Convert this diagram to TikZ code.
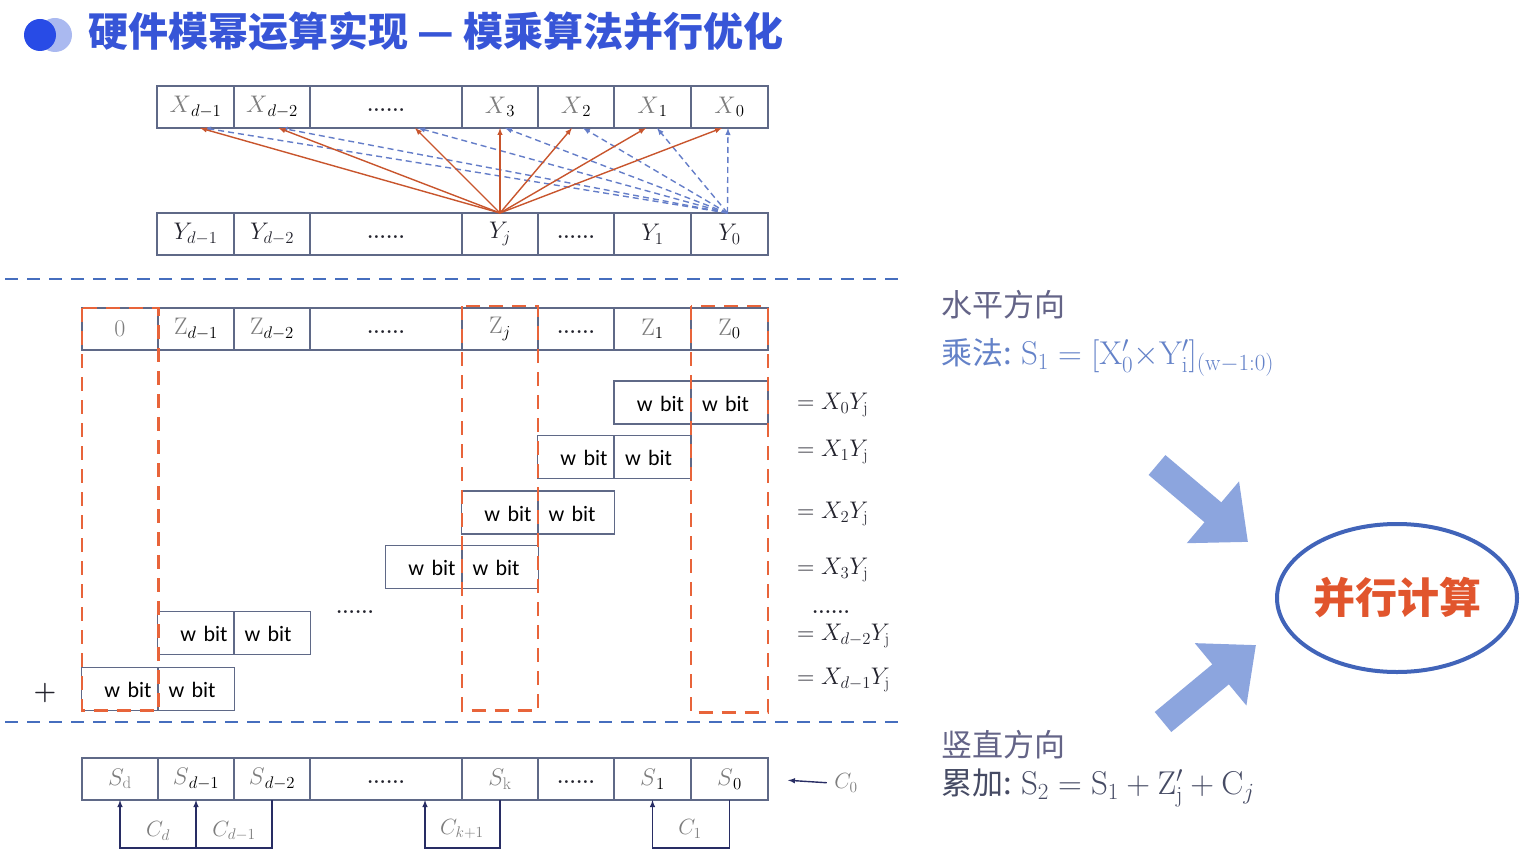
\RequirePackage{fix-cm}
\documentclass[tikz,border=0pt]{standalone}
\usepackage{fontspec}
\newfontfamily\cjk{Noto Sans CJK SC}
\newfontfamily\wfont{Carlito}
\usetikzlibrary{arrows.meta,shapes.geometric}

\definecolor{titleblue}{RGB}{55,85,215}
\definecolor{iconblue}{RGB}{40,75,230}
\definecolor{iconlight}{RGB}{170,185,240}
\definecolor{cellline}{RGB}{95,105,135}
\definecolor{xgray}{RGB}{125,125,125}
\definecolor{darktext}{RGB}{35,35,45}
\definecolor{odash}{RGB}{232,100,58}
\definecolor{orarrow}{RGB}{200,85,45}
\definecolor{blarrow}{RGB}{100,125,200}
\definecolor{sepblue}{RGB}{70,110,190}
\definecolor{carryline}{RGB}{40,45,100}
\definecolor{headgray}{RGB}{100,100,135}
\definecolor{mulblue}{RGB}{100,130,200}
\definecolor{addgray}{RGB}{70,75,100}
\definecolor{ellblue}{RGB}{65,100,185}
\definecolor{partext}{RGB}{225,85,45}
\definecolor{bigarr}{RGB}{140,165,222}

\begin{document}
\begin{tikzpicture}[x=1pt,y=-1pt,>=latex,
    cell/.style={draw=cellline,line width=1.2pt,minimum height=42,outer sep=0pt,inner sep=0pt,font=\fontsize{24}{28}\selectfont},
    wl/.style={draw=cellline,line width=1.2pt,minimum width=77,minimum height=43,outer sep=0pt,inner xsep=7,inner ysep=4,text width=63,align=right,text height=22,text depth=5,font=\wfont\fontsize{22}{26}\selectfont},
    wr/.style={wl,inner xsep=11,text width=55,align=left},
    eqlab/.style={anchor=west,inner sep=0pt,font=\fontsize{24}{28}\selectfont,text=darktext},
    dots/.style={font=\fontsize{20}{24}\selectfont\bfseries,text=darktext,text height=9pt,text depth=0pt},
    sepline/.style={sepblue,line width=2.5pt,dash pattern=on 13pt off 9pt},
    colbox/.style={odash,line width=2.8pt,dash pattern=on 14pt off 9pt},
    orangearr/.style={->,orarrow,line width=1.4pt},
    bluearr/.style={->,blarrow,line width=1.4pt,dash pattern=on 6pt off 4pt},
    carry/.style={->,carryline,line width=1.4pt},
    clab/.style={text=xgray,font=\fontsize{22}{26}\selectfont},
    heading/.style={anchor=west,inner sep=0pt,font=\cjk\fontsize{31}{36}\selectfont},
    bigarrow/.style={bigarr,line width=26pt,-{Triangle[length=46pt,width=78pt]}}]
    \useasboundingbox (0,0) rectangle (1520,861);

    % title
    \fill[iconlight] (55,35) circle (17pt);
    \fill[iconblue] (40,35) circle (16pt);
    \node[anchor=west,inner sep=0pt,text=titleblue,font=\cjk\bfseries\fontsize{40}{46}\selectfont] (title) at (88,31) {硬件模幂运算实现 — 模乘算法并行优化};

    % X row
    \node[cell,minimum width=77] (xdm1) at (195.5,107) {$\textcolor{xgray}{X}_{d-1}$};
    \node[cell,minimum width=76] (xdm2) at (272,107) {$\textcolor{xgray}{X}_{d-2}$};
    \node[cell,minimum width=152,dots] (xdots) at (386,107) {......};
    \node[cell,minimum width=76] (x3) at (500,107) {$\textcolor{xgray}{X}_3$};
    \node[cell,minimum width=76] (x2) at (576,107) {$\textcolor{xgray}{X}_2$};
    \node[cell,minimum width=77] (x1) at (652.5,107) {$\textcolor{xgray}{X}_1$};
    \node[cell,minimum width=77] (x0) at (729.5,107) {$\textcolor{xgray}{X}_0$};

    % Y row
    \node[cell,minimum width=77,text=darktext] (ydm1) at (195.5,234) {$Y_{d-1}$};
    \node[cell,minimum width=76,text=darktext] (ydm2) at (272,234) {$Y_{d-2}$};
    \node[cell,minimum width=152,dots] (ydots) at (386,234) {......};
    \node[cell,minimum width=76,text=darktext] (yj) at (500,234) {$Y_j$};
    \node[cell,minimum width=76,dots] (ydots2) at (576,234) {......};
    \node[cell,minimum width=77,text=darktext] (y1) at (652.5,234) {$Y_1$};
    \node[cell,minimum width=77,text=darktext] (y0) at (729.5,234) {$Y_0$};

    \foreach \tgt/\ox/\bx in {xdm1/4.5/8.5,xdm2/6.5/8.5,xdots/29/32,x3/0/5,x2/-4/7,x1/-6.5/4.5,x0/-7.5/-1.5}{
        \draw[bluearr] ([xshift=-2pt]y0.north) -- ([xshift=\bx pt]\tgt.south);
        \draw[orangearr] (yj.north) -- ([xshift=\ox pt]\tgt.south);
    }

    \draw[sepline] (5,279) -- (900,279);

    % Z row
    \node[cell,minimum width=76,text=xgray] (zzero) at (120,329) {$0$};
    \node[cell,minimum width=76] (zdm1) at (196,329) {$\textcolor{xgray}{\mathrm{Z}}_{d-1}$};
    \node[cell,minimum width=76] (zdm2) at (272,329) {$\textcolor{xgray}{\mathrm{Z}}_{d-2}$};
    \node[cell,minimum width=152,dots] (zdots) at (386,329) {......};
    \node[cell,minimum width=76] (zj) at (500,329) {$\textcolor{xgray}{\mathrm{Z}}_j$};
    \node[cell,minimum width=76,dots] (zdots2) at (576,329) {......};
    \node[cell,minimum width=77] (z1) at (652.5,329) {$\textcolor{xgray}{\mathrm{Z}}_1$};
    \node[cell,minimum width=77] (z0) at (729.5,329) {$\textcolor{xgray}{\mathrm{Z}}_0$};

    % partial products
    \node[wl] (w1a) at (652.5,402.5) {w bit};
    \node[wr] (w1b) at (729.5,402.5) {w bit};
    \node[wl] (w2a) at (576,457) {w bit};
    \node[wr] (w2b) at (652.5,457) {w bit};
    \node[wl] (w3a) at (500,512.5) {w bit};
    \node[wr] (w3b) at (576,512.5) {w bit};
    \node[wl] (w4a) at (424,567) {w bit};
    \node[wr] (w4b) at (500,567) {w bit};
    \node[wl] (w5a) at (196,633) {w bit};
    \node[wr] (w5b) at (272,633) {w bit};
    \node[wl] (w6a) at (120,689) {w bit};
    \node[wr] (w6b) at (196,689) {w bit};

    \node[eqlab] (eq1) at (797,405) {$=X_0Y_\mathrm{j}$};
    \node[eqlab] (eq2) at (797,452) {$=X_1Y_\mathrm{j}$};
    \node[eqlab] (eq3) at (797,514) {$=X_2Y_\mathrm{j}$};
    \node[eqlab] (eq4) at (797,570) {$=X_3Y_\mathrm{j}$};
    \node[dots] (eqdots) at (831,609) {......};
    \node[eqlab] (eq5) at (797,636) {$=X_{d-2}Y_\mathrm{j}$};
    \node[eqlab] (eq6) at (797,680) {$=X_{d-1}Y_\mathrm{j}$};
    \node[dots] (wdots) at (355,609) {......};
    \node[font=\fontsize{26}{30}\selectfont\bfseries,text=darktext] (plus) at (45,693) {+};

    % columns worked in parallel
    \draw[colbox] (zzero.north west) rectangle (w6a.south east);
    \draw[colbox] ([yshift=2pt]zj.north west) rectangle (zj.east |- w6a.south);
    \draw[colbox] ([yshift=2pt]z0.north west) rectangle ([yshift=-2pt]z0.east |- w6a.south);

    \draw[sepline] (5,722) -- (900,722);

    % S row
    \node[cell,minimum width=76] (sd) at (120,779) {$\textcolor{xgray}{S_\mathrm{d}}$};
    \node[cell,minimum width=76] (sdm1) at (196,779) {$\textcolor{xgray}{S}_{d-1}$};
    \node[cell,minimum width=76] (sdm2) at (272,779) {$\textcolor{xgray}{S}_{d-2}$};
    \node[cell,minimum width=152,dots] (sdots) at (386,779) {......};
    \node[cell,minimum width=76] (sk) at (500,779) {$\textcolor{xgray}{S_\mathrm{k}}$};
    \node[cell,minimum width=76,dots] (sdots2) at (576,779) {......};
    \node[cell,minimum width=77] (s1) at (652.5,779) {$\textcolor{xgray}{S}_1$};
    \node[cell,minimum width=77] (s0) at (729.5,779) {$\textcolor{xgray}{S}_0$};

    \node[clab] (c0) at (846,783) {$C_0$};
    \draw[->,carryline,line width=1.4pt,shorten >=20pt,shorten <=4pt] (c0.west) -- (s0.east);

    % carries
    \draw[carry] (sdm2.south) -- ++(0,48) -| (sdm1.south);
    \draw[carry] ([yshift=-48pt]sdm1.south) -| (sd.south);
    \draw[carry] (sk.south) -- ++(0,48) -| ([xshift=39pt]sdots.south);
    \draw[carry] (s0.south) -- ++(0,48) -| (s1.south);
    \node[clab] (cd) at (158,831) {$C_d$};
    \node[clab] (cdm1) at (234,831) {$C_{d-1}$};
    \node[clab] (ckp1) at (462,829) {$C_{k+1}$};
    \node[clab] (c1) at (690,829) {$C_1$};

    % right side
    \node[heading,text=headgray] (horiz) at (941,305) {水平方向};
    \node[heading,text=mulblue] (mul) at (941,357) {乘法: {\fontsize{33}{38}\selectfont$\mathrm{S}_1=[\mathrm{X}'_0{\times}\mathrm{Y}'_\mathrm{i}]_{(\mathrm{w}-1:0)}$}};
    \node[heading,text=headgray] (vert) at (941,745) {竖直方向};
    \node[heading,text=addgray] (acc) at (941,788) {累加: {\fontsize{33}{38}\selectfont$\mathrm{S}_2=\mathrm{S}_1+\mathrm{Z}'_\mathrm{j}+\mathrm{C}_j$}};

    \node[draw=ellblue,line width=4pt,ellipse,minimum width=240,minimum height=148,inner sep=0pt,text=partext,font=\cjk\bfseries\fontsize{42}{48}\selectfont] (par) at (1397,598) {并行计算};

    \coordinate (upstart) at (1157,465);
    \coordinate (uptip) at (1248,542);
    \coordinate (lowstart) at (1163,722);
    \coordinate (lowtip) at (1256,645);
    \draw[bigarrow] (upstart) -- (uptip);
    \draw[bigarrow] (lowstart) -- (lowtip);
\end{tikzpicture}
\end{document}
